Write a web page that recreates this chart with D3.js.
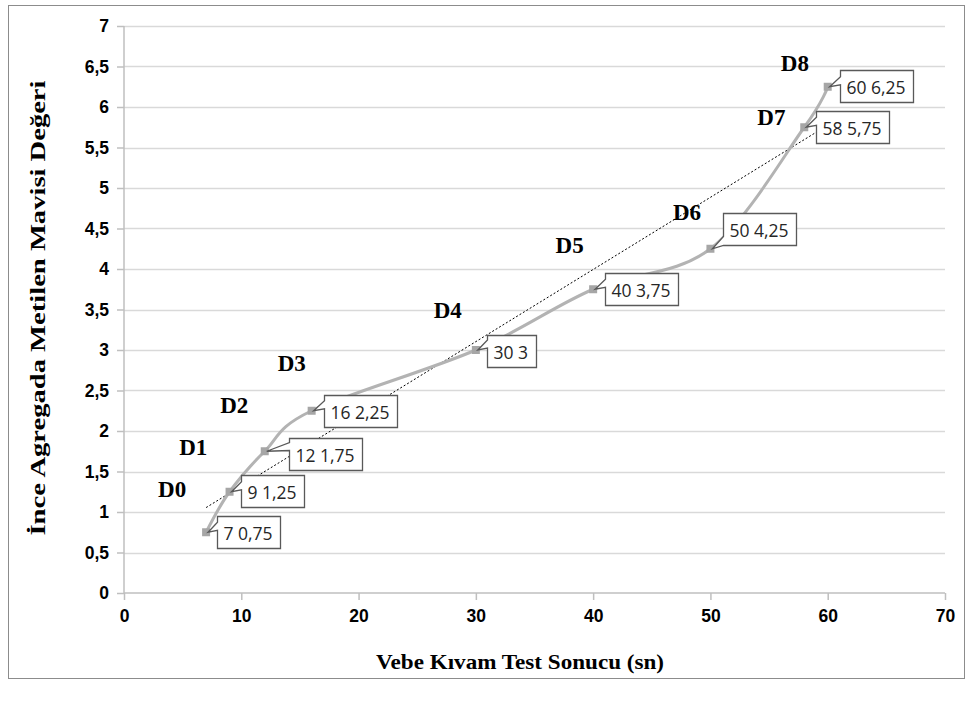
<!DOCTYPE html>
<html><head><meta charset="utf-8">
<script src="https://cdn.jsdelivr.net/npm/d3@7"></script>
<style>
html,body{margin:0;padding:0;background:#fff;}
svg{display:block;}
</style></head>
<body>
<svg id="c" width="971" height="702"></svg>
<script>
// ---- data ----
const xValues = [7, 9, 12, 16, 30, 40, 50, 58, 60];
const yValues = [0.75, 1.25, 1.75, 2.25, 3, 3.75, 4.25, 5.75, 6.25];
const annNames = ["D0","D1","D2","D3","D4","D5","D6","D7","D8"];
const annX = [4.1, 5.9, 9.4, 14.3, 27.6, 38.0, 48.0, 55.2, 57.2];
const annY = [1.28, 1.80, 2.32, 2.84, 3.50, 4.30, 4.70, 5.88, 6.54];
const xTicks = [0,10,20,30,40,50,60,70];
const yTicks = [0,0.5,1,1.5,2,2.5,3,3.5,4,4.5,5,5.5,6,6.5,7];
const xTitle = "Vebe Kıvam Test Sonucu (sn)";
const yTitle = "İnce Agregada Metilen Mavisi Değeri";
// label layout (pixel offsets of callout box from point)
const labelDx = [11, 11, 24, 12, 11, 12, 13, 12, 12];
const labelDy = [-16, -17, -13, -16, -15, -16, -36, -16, -17];

const svg = d3.select("#c");
svg.append("rect").attr("x",8.5).attr("y",5.5).attr("width",956).attr("height",673)
  .attr("fill","#fff").attr("stroke","#8c8c8c").attr("stroke-width",1);

const x = d3.scaleLinear().domain([0,70]).range([124,945]);
const y = d3.scaleLinear().domain([0,7]).range([593,26]);
const fmt = v => String(v).replace(".", ",");

// gridlines
svg.append("g").selectAll("line").data(yTicks.filter(d=>d>0)).join("line")
  .attr("x1",x(0)).attr("x2",x(70)).attr("y1",d=>Math.round(y(d))+0.5).attr("y2",d=>Math.round(y(d))+0.5)
  .attr("stroke","#d9d9d9").attr("stroke-width",1.5);

// axes
const yAxis = d3.axisLeft(y).tickValues(yTicks).tickFormat(fmt).tickSize(7).tickPadding(8);
const gy = svg.append("g").attr("transform",`translate(${x(0)},0)`).call(yAxis);
const xAxis = d3.axisBottom(x).tickValues(xTicks).tickFormat(d=>d).tickSize(7).tickPadding(10);
const gx = svg.append("g").attr("transform",`translate(0,${y(0)})`).call(xAxis);
[gx,gy].forEach(g=>{
  g.select(".domain").attr("stroke","#bfbfbf").attr("stroke-width",1.5);
  g.selectAll(".tick line").attr("stroke","#bfbfbf").attr("stroke-width",1.5);
  g.selectAll(".tick text").attr("fill","#000").attr("font-family","'Liberation Sans', Arial, sans-serif")
   .attr("font-weight","bold").attr("font-size",17.5);
});
gy.select(".domain").attr("d",`M0,${y(7)}V${y(0)}`);
gx.select(".domain").attr("d",`M${x(0)},0H${x(70)}`);

// trendline (linear least squares of the series)
const n = xValues.length;
const mx = d3.mean(xValues), my = d3.mean(yValues);
let sxy=0, sxx=0;
for(let i=0;i<n;i++){ sxy += (xValues[i]-mx)*(yValues[i]-my); sxx += (xValues[i]-mx)**2; }
const slope = sxy/sxx, intercept = my - slope*mx;
const xmin = d3.min(xValues), xmax = d3.max(xValues);
svg.append("line").attr("x1",x(xmin)).attr("y1",y(intercept+slope*xmin))
  .attr("x2",x(xmax)).attr("y2",y(intercept+slope*xmax))
  .attr("stroke","#000").attr("stroke-width",1).attr("stroke-dasharray","2,2");

// smoothed line
const pts = xValues.map((v,i)=>[v,yValues[i]]);
const line = d3.line().x(d=>x(d[0])).y(d=>y(d[1])).curve(d3.curveCatmullRom.alpha(0));
svg.append("path").attr("d",line(pts)).attr("fill","none").attr("stroke","#b3b3b3").attr("stroke-width",3);

// markers
svg.append("g").selectAll("rect").data(pts).join("rect")
  .attr("x",d=>x(d[0])-4).attr("y",d=>y(d[1])-4).attr("width",8).attr("height",8)
  .attr("fill","#a6a6a6");

// callout labels
const lg = svg.append("g");
pts.forEach((d,i)=>{
  const px = x(d[0]), py = y(d[1]);
  const txt = `${d[0]} ${fmt(d[1])}`;
  const g = lg.append("g");
  const t = g.append("text").text(txt).attr("font-family","'Open Sans', Lato, sans-serif")
    .attr("font-size",17.5).attr("fill","#262626");
  const tw = t.node().getComputedTextLength();
  const bx = Math.round(px + labelDx[i]) + 0.5, by = Math.round(py + labelDy[i]) + 0.5;
  const bw = Math.round(tw + 14), bh = 32;
  t.attr("x", bx + 6).attr("y", by + 23);
  let w1, w2;
  const rel = py - by;
  if (rel > bh - 4) { w1 = bh - 9; w2 = bh; }
  else { w1 = Math.max(4, Math.min(bh-12, rel - 10)); w2 = w1 + 8; }
  const tipx = px + 2, tipy = py;
  const path = `M${bx},${by}H${bx+bw}V${by+bh}H${bx}V${by+w2}L${tipx},${tipy}L${bx},${by+w1}Z`;
  g.insert("path","text").attr("d",path).attr("fill","#fff").attr("stroke","#595959").attr("stroke-width",1.3);
});

// D annotations
svg.append("g").selectAll("text").data(annNames).join("text")
  .attr("x",(d,i)=>x(annX[i])).attr("y",(d,i)=>y(annY[i])+8)
  .attr("text-anchor","middle").attr("font-family","'Liberation Serif', serif")
  .attr("font-weight","bold").attr("font-size",23).attr("fill","#000").text(d=>d);

// axis titles
svg.append("text").attr("x",520).attr("y",669).attr("text-anchor","middle")
  .attr("font-family","'Liberation Serif', serif").attr("font-weight","bold").attr("font-size",22)
  .attr("textLength",288).attr("lengthAdjust","spacingAndGlyphs").text(xTitle);
svg.append("text").attr("transform","translate(45,308) rotate(-90)").attr("text-anchor","middle")
  .attr("font-family","'Liberation Serif', serif").attr("font-weight","bold").attr("font-size",22)
  .attr("textLength",455).attr("lengthAdjust","spacingAndGlyphs").text(yTitle);
</script>
</body></html>
